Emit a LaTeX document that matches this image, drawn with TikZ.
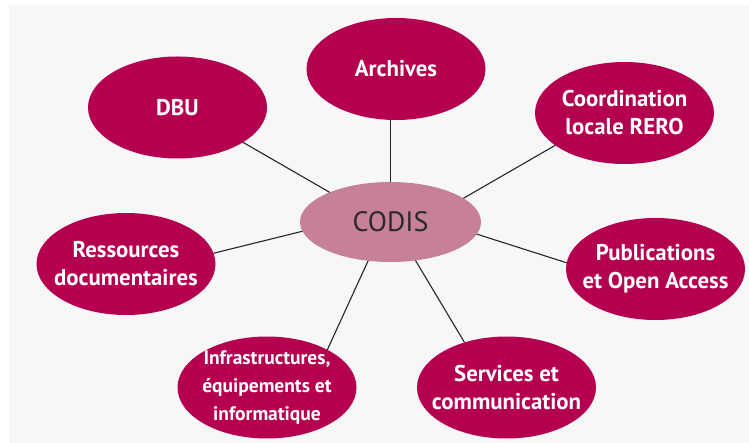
\documentclass[tikz,border=0pt]{standalone}
\usepackage{fontspec}
\usetikzlibrary{shapes.geometric}
\setmainfont{PT Sans}
\definecolor{magen}{HTML}{B4004E}
\definecolor{codisc}{HTML}{C6809A}
\definecolor{bggray}{HTML}{F7F7F7}
\definecolor{txtdark}{HTML}{2A2A2A}
\tikzset{
  blob/.style={ellipse, fill=magen, text=white, inner sep=-40pt, outer sep=0pt,
    minimum width=179pt, minimum height=102pt, align=center,
    font=\fontsize{22.8}{28}\selectfont\bfseries},
  hub/.style={ellipse, fill=codisc, text=txtdark, inner sep=-40pt, outer sep=0pt,
    minimum width=181pt, minimum height=80pt,
    font=\fontsize{28}{32}\selectfont},
  link/.style={draw=black!85, line width=1.1pt}
}
\newcommand{\smallfs}{\fontsize{19.5}{22.5}\selectfont}
\begin{document}
\begin{tikzpicture}[x=1pt,y=-1pt]
\useasboundingbox (0,0) rectangle (749,443);
\fill[white] (0,0) rectangle (749,443);
\fill[bggray] (9,5) rectangle (749,443);
\node[hub]  (codis) at (390.5,222) {CODIS};
\node[blob] (arch)  at (396,69) {Archives};
\node[blob] (dbu)   at (177.5,107.5) {DBU};
\node[blob] (coord) at (624.5,113) {Coordination\\locale RERO};
\node[blob] (res)   at (126,264) {Ressources\\documentaires};
\node[blob] (pub)   at (655.5,269) {Publications\\et Open Access};
\node[blob] (infra) at (267,387.5) {\smallfs Infrastructures,\\ \smallfs équipements et\\ \smallfs informatique};
\node[blob] (serv)  at (506.5,387.5) {Services et\\communication};
\draw[link] (codis.154.8) -- (dbu.-28.1);
\draw[link] (codis.north) -- (codis.north |- arch.south);
\draw[link] (codis.18.3) -- (coord.205.1);
\draw[link] (codis.-174.8) -- (res.7.8);
\draw[link] (codis.-8.7) -- (pub.176.8);
\draw[link] (codis.240.6) -- (infra.32.3);
\draw[link] (codis.-57.2) -- (serv.133);
\end{tikzpicture}
\end{document}
